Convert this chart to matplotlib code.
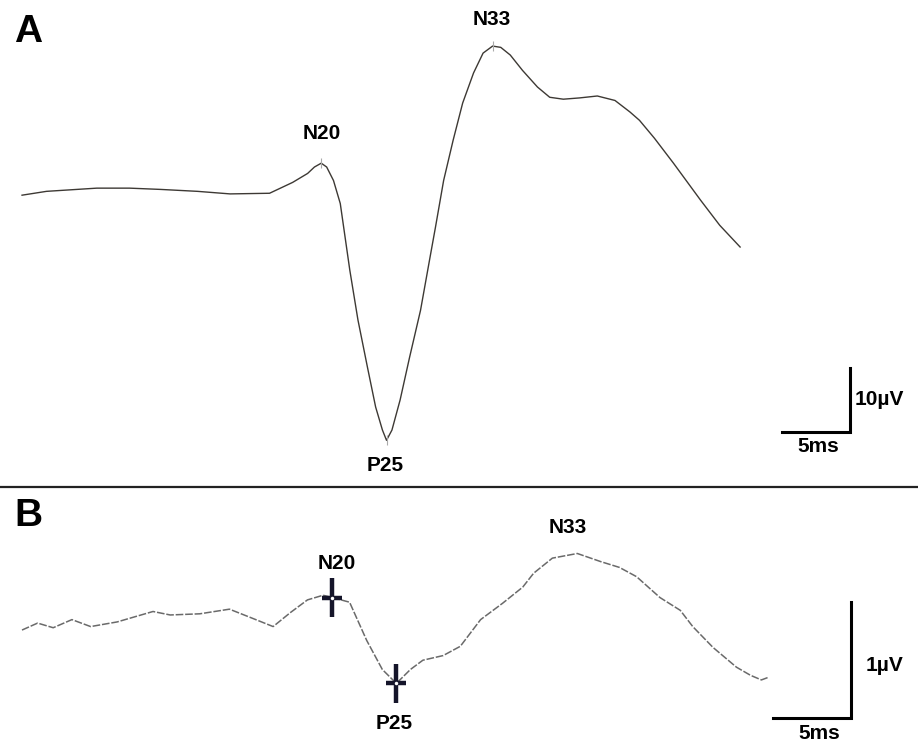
import numpy as np
import matplotlib
matplotlib.use("Agg")
import matplotlib.pyplot as plt
from matplotlib.lines import Line2D

plt.rcParams['font.family'] = ['Liberation Sans', 'DejaVu Sans']

# panel A : latency (ms) and amplitude (uV)
a_time = [-2.0, -0.2, 3.5, 5.9, 8.2, 10.9, 13.3, 16.2, 17.0, 17.9, 19.0, 19.5,
          20.0, 20.4, 20.9, 21.4, 22.1, 22.7, 23.4, 24.0, 24.5, 24.8, 25.2, 25.8,
          26.5, 27.3, 28.0, 28.4, 29.0, 29.7, 30.4, 31.2, 31.9, 32.6, 33.2, 33.9,
          34.8, 35.9, 36.8, 37.8, 39.0, 40.3, 41.6, 42.7, 43.4, 44.5, 45.9, 47.9,
          49.3, 50.8]
a_amp = [0.0, 0.6, 1.1, 1.1, 0.9, 0.6, 0.2, 0.3, 1.1, 2.0, 3.4, 4.4,
         5.0, 4.4, 2.3, -1.3, -11.7, -19.5, -26.9, -33.1, -36.7, -38.3, -36.7, -32.0,
         -25.3, -18.0, -9.7, -5.0, 2.3, 8.6, 14.4, 19.1, 22.2, 23.3, 23.1, 21.9,
         19.5, 16.9, 15.3, 15.0, 15.2, 15.5, 14.8, 13.0, 11.7, 8.9, 5.0, -0.8,
         -4.7, -8.1]
a_peaks = ["N20", "P25", "N33"]
a_peak_idx = [12, 21, 33]

# panel B
b_time = [0.0, 1.0, 2.0, 3.2, 4.4, 6.1, 8.4, 9.5, 11.4, 13.3, 14.8, 16.1,
          17.2, 18.3, 19.3, 19.9, 21.0, 22.1, 23.1, 24.0, 24.9, 25.7, 27.0, 28.1,
          29.4, 30.8, 32.1, 32.8, 34.0, 35.6, 37.1, 38.3, 39.4, 40.9, 42.2, 43.0,
          44.3, 45.8, 46.7, 47.4, 47.8]
b_amp = [0.0, 0.06, 0.02, 0.09, 0.03, 0.07, 0.16, 0.13, 0.14, 0.18, 0.10, 0.03,
         0.15, 0.26, 0.30, 0.28, 0.24, -0.09, -0.34, -0.46, -0.34, -0.26, -0.22, -0.14,
         0.09, 0.23, 0.37, 0.49, 0.62, 0.66, 0.59, 0.54, 0.46, 0.28, 0.17, 0.03,
         -0.15, -0.32, -0.39, -0.43, -0.41]
b_peaks = ["N20", "P25", "N33"]
b_peak_idx = [15, 19, 29]
b_cursor_idx = [15, 19]

W, H = 918, 745
fig = plt.figure(figsize=(W / 100, H / 100), dpi=100)

def px(n):
    # pixels -> points for offsets
    return n * 72 / 100

lab = dict(fontsize=15, fontweight='bold', ha='center', va='center', color='black')

######## panel A ########
axA = fig.add_axes([0, 1 - 487 / H, 1, 487 / H])
axA.set_xlim(-3.62, 63.88)
axA.set_ylim(-45.6, 30.5)
axA.axis('off')
axA.plot(a_time, a_amp, color='#3d3934', lw=1.0, solid_joinstyle='round')

a_off = [(1, 30), (-1, -25), (-1, 27)]
for name, i, (dx, dy) in zip(a_peaks, a_peak_idx, a_off):
    axA.annotate(name, (a_time[i], a_amp[i]), xytext=(px(dx), px(dy)),
                 textcoords='offset points', **lab)
    # little marker tick at the peak
    axA.plot([a_time[i]], [a_amp[i]], marker='|', ms=7, color='#aaaaaa', mew=0.8)

# scale bar 5 ms / 10 uV
sx, sy = 53.9, -37.0
axA.plot([sx, sx + 5, sx + 5], [sy, sy, sy + 10], color='black', lw=2.2,
         solid_joinstyle='miter')
axA.annotate("5ms", (sx + 2.5, sy), xytext=(px(2), px(-15)), textcoords='offset points', **lab)
axA.annotate("10µV", (sx + 5, sy + 5), xytext=(px(29), 0), textcoords='offset points', **lab)
axA.text(0.031, 0.934, "A", transform=axA.transAxes, fontsize=28,
         fontweight='bold', ha='center', va='center')

######## panel B ########
axB = fig.add_axes([0, 0, 1, 256 / H])
axB.set_xlim(-1.41, 57.44)
axB.set_ylim(-0.991, 1.216)
axB.axis('off')
axB.plot(b_time, b_amp, color='#6a6a6a', lw=1.1, dashes=(5, 1.2))

cx = [b_time[i] for i in b_cursor_idx]
cy = [b_amp[i] for i in b_cursor_idx]
axB.errorbar(cx, cy, xerr=0.64, yerr=0.165, fmt='none', ecolor='#15152a',
             elinewidth=3.2, capsize=0)
axB.plot(cx, cy, 'o', ms=2.5, color='white', mec='none')

b_off = [(4, 34), (-2, -40), (-10, 26)]
for name, i, (dx, dy) in zip(b_peaks, b_peak_idx, b_off):
    axB.annotate(name, (b_time[i], b_amp[i]), xytext=(px(dx), px(dy)),
                 textcoords='offset points', **lab)

sx, sy = 48.14, -0.759
axB.plot([sx, sx + 5, sx + 5], [sy, sy, sy + 1], color='black', lw=2.2,
         solid_joinstyle='miter')
axB.annotate("5ms", (sx + 2.5, sy), xytext=(px(7), px(-15)), textcoords='offset points', **lab)
axB.annotate("1µV", (sx + 5, sy + 0.5), xytext=(px(34), px(-5)), textcoords='offset points', **lab)
axB.text(0.031, 0.895, "B", transform=axB.transAxes, fontsize=28,
         fontweight='bold', ha='center', va='center')

# separator between the two panels
fig.add_artist(Line2D([0, 1], [1 - 487 / H, 1 - 487 / H], transform=fig.transFigure,
                      color='#222222', lw=1.6))

fig.savefig("out.png", dpi=100, facecolor='white')
